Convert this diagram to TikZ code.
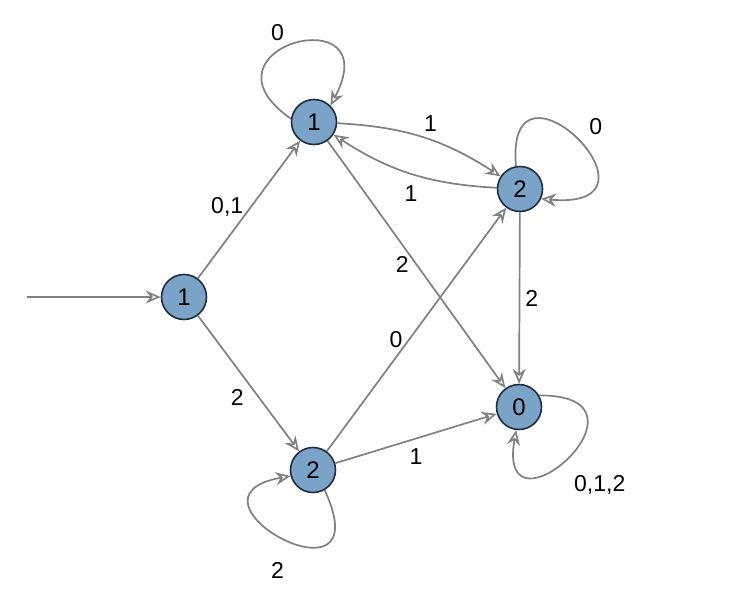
\documentclass[tikz,border=0pt]{standalone}
\usepackage{fontspec}
\setmainfont{Liberation Sans}
\usetikzlibrary{arrows.meta, positioning}
\definecolor{stfill}{HTML}{7BA3C8}
\definecolor{stline}{HTML}{1E2D3C}
\definecolor{edgegray}{HTML}{808080}

\begin{document}
\begin{tikzpicture}[x=1pt, y=1pt,
  >={Stealth[open, length=15pt, width=13pt, inset=5pt]},
  st/.style={circle, draw=stline, line width=1.6pt, fill=stfill,
    minimum size=45pt, inner sep=0pt, font=\fontsize{24}{28}\selectfont},
  trans/.style={->, draw=edgegray, line width=1.7pt},
  lbl/.style={font=\fontsize{23}{27}\selectfont, text=black, inner sep=3pt},
]

% Frame
\useasboundingbox (0,0) rectangle (751,-613);

% =============================================
% States
% =============================================
\node[st] (s0) at (184,-297) {1};
\node[st] (a1) at (314,-122) {1};
\node[st] (b2) at (520,-189) {2};
\node[st] (c0) at (519,-407) {0};
\node[st] (d2) at (313,-470) {2};

% Initial arrow
\coordinate (init) at (27,-297);
\draw[trans] (init) -- (s0);

% =============================================
% Transitions
% =============================================
\draw[trans] (s0) -- node[lbl, pos=0.52, left=4pt] {0,1} (a1);
\draw[trans] (s0) -- node[lbl, pos=0.6, left=11pt] {2} (d2);
\draw[trans] (a1) to[bend left=15] node[lbl, pos=0.55, above=5pt] {1} (b2);
\draw[trans] (b2) to[bend left=15] node[lbl, below=8pt] {1} (a1);
\draw[trans] (a1) -- node[lbl, left=4pt] {2} (c0);
\draw[trans] (b2) -- node[lbl, right=2pt] {2} (c0);
\draw[trans] (d2) -- node[lbl, pos=0.46, left=3pt] {0} (b2);
\draw[trans] (d2) -- node[lbl, below=6pt] {1} (c0);

% Self loops
\draw[trans] (a1.172) .. controls +(145:125) and +(62:125) ..
  node[lbl, pos=0.4, above=7pt] {0} (a1.45);
\draw[trans] (b2.100) .. controls +(95:130) and +(-5:140) ..
  node[lbl, pos=0.5, above right=0pt, xshift=9pt] {0} (b2.-25);
\draw[trans] (c0.30) .. controls +(0:130) and +(-100:120) ..
  node[lbl, pos=0.55, below right=2pt, xshift=8pt, yshift=-7pt] {0,1,2} (c0.-97);
\draw[trans] (d2.-60) .. controls +(-65:140) and +(190:125) ..
  node[lbl, pos=0.45, below left=-1pt, xshift=-6pt, yshift=-16pt] {2} (d2.195);

\end{tikzpicture}
\end{document}
